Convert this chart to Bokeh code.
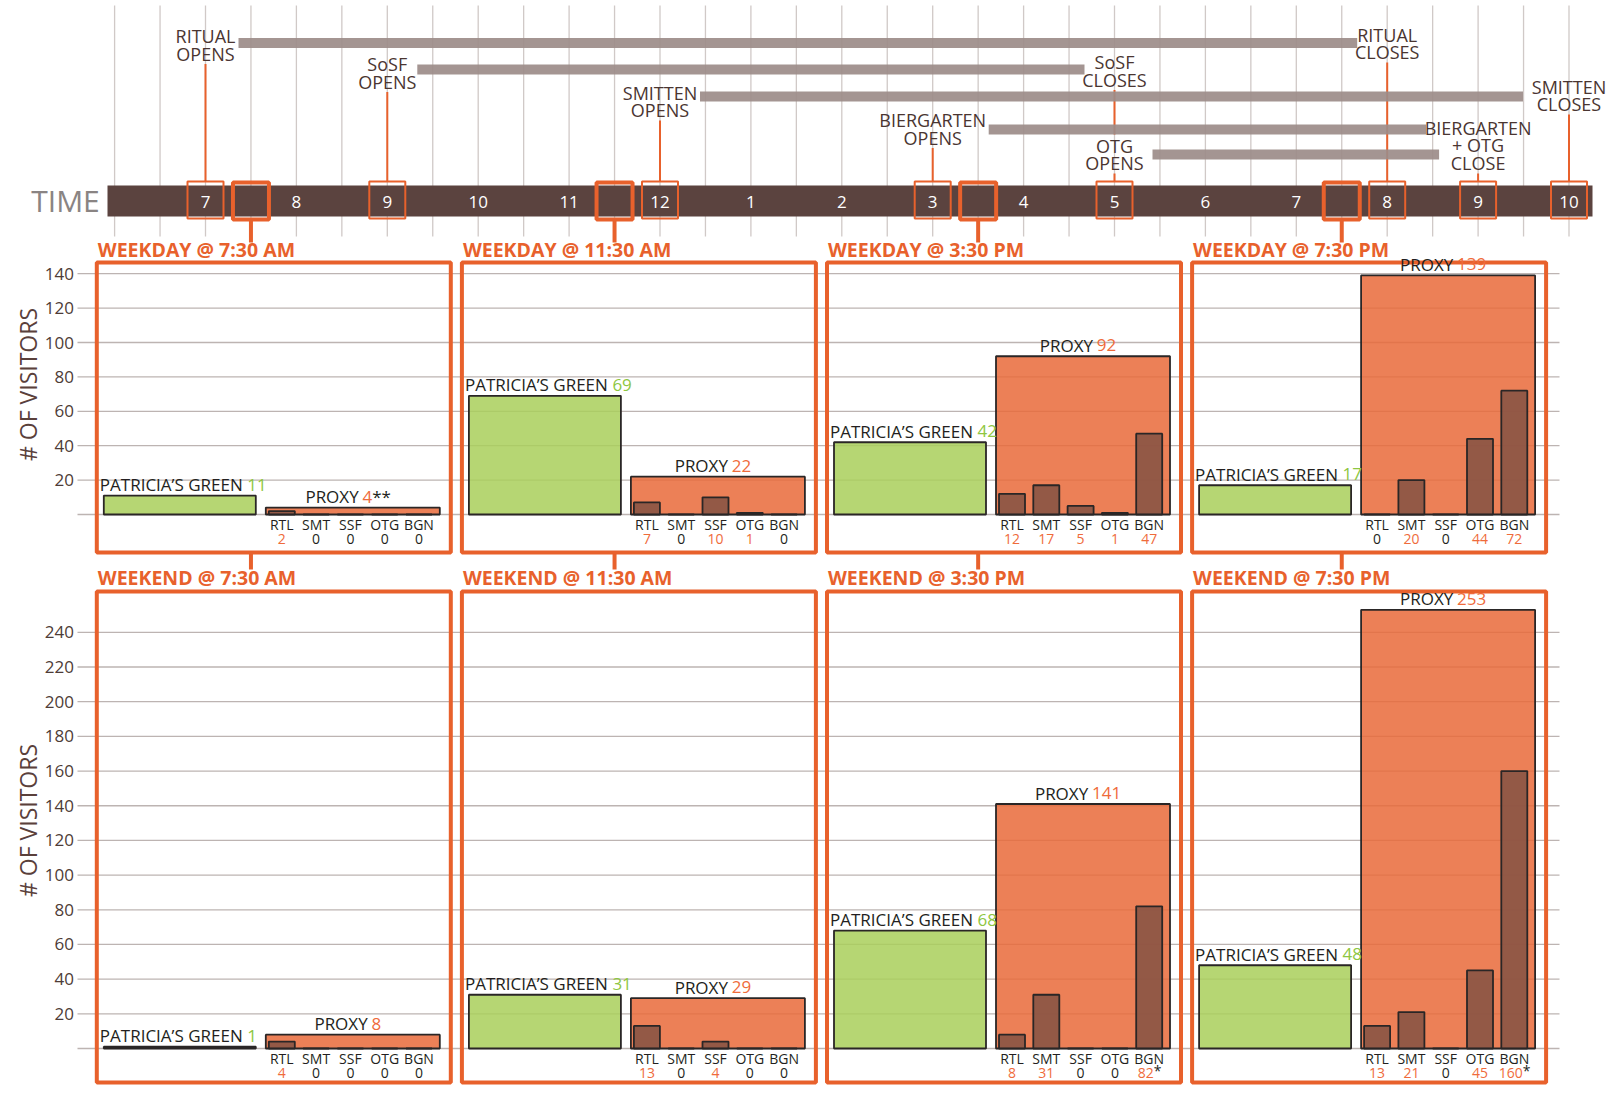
import math
from bokeh.plotting import figure
from bokeh.models import Range1d, ColumnDataSource
from bokeh.core.properties import value
from bokeh.embed import file_html
from bokeh.resources import INLINE

# ---------------- data ----------------
hours = [7, 8, 9, 10, 11, 12, 13, 14, 15, 16, 17, 18, 19, 20, 21, 22]
hour_labels = ["7", "8", "9", "10", "11", "12", "1", "2", "3", "4", "5", "6", "7", "8", "9", "10"]
snapshot_hours = [7.5, 11.5, 15.5, 19.5]
snapshot_labels = ["7:30 AM", "11:30 AM", "3:30 PM", "7:30 PM"]

venues = ["RITUAL", "SoSF", "SMITTEN", "BIERGARTEN", "OTG"]
open_hours = [7, 9, 12, 15, 17]
close_hours = [20, 17, 22, 21, 21]

event_hours = [7, 9, 12, 15, 17, 17, 20, 21, 22]
event_texts = ["RITUAL\nOPENS", "SoSF\nOPENS", "SMITTEN\nOPENS", "BIERGARTEN\nOPENS",
               "SoSF\nCLOSES", "OTG\nOPENS", "RITUAL\nCLOSES", "BIERGARTEN\n+ OTG\nCLOSE",
               "SMITTEN\nCLOSES"]

categories = ["RTL", "SMT", "SSF", "OTG", "BGN"]

weekday_green = [11, 69, 42, 17]
weekday_proxy = [4, 22, 92, 139]
weekday_rtl = [2, 7, 12, 0]
weekday_smt = [0, 0, 17, 20]
weekday_ssf = [0, 10, 5, 0]
weekday_otg = [0, 1, 1, 44]
weekday_bgn = [0, 0, 47, 72]
weekday_proxy_note = ["**", "", "", ""]
weekday_bgn_note = ["", "", "", ""]

weekend_green = [1, 31, 68, 48]
weekend_proxy = [8, 29, 141, 253]
weekend_rtl = [4, 13, 8, 13]
weekend_smt = [0, 0, 31, 21]
weekend_ssf = [0, 4, 0, 0]
weekend_otg = [0, 0, 0, 45]
weekend_bgn = [0, 0, 82, 160]
weekend_proxy_note = ["", "", "", ""]
weekend_bgn_note = ["", "", "*", "*"]

weekday_ticks = [0, 20, 40, 60, 80, 100, 120, 140]
weekend_ticks = [0, 20, 40, 60, 80, 100, 120, 140, 160, 180, 200, 220, 240]

# ---------------- styles / layout ----------------
FONT = value("Open Sans")
ORANGE = "#E8612C"
ORANGE_TXT = "#EF6B3B"
DARK = "#231F20"
BROWN_TXT = "#4A3531"
GREEN_TXT = "#8EC641"
W, H = 1608, 1101

PX_H = 90.9      # pixels per hour on the timeline
X7 = 205.0       # pixel position of 7 o'clock


def px2h(px):
    return 7 + (px - X7) / PX_H


# value scales of the two panel rows: (baseline pixel, pixels per visitor)
WD_BASE, WD_SCALE = 514.0, 1.72
WE_BASE, WE_SCALE = 1048.0, 1.734

p = figure(width=W, height=H, x_range=Range1d(0, W), y_range=Range1d(H, 0),
           x_axis_type=None, y_axis_type=None, toolbar_location=None, output_backend="svg",
           title=None, min_border=0, min_border_left=0, min_border_right=0,
           min_border_top=0, min_border_bottom=0)
p.extra_x_ranges = {"hours": Range1d(px2h(0), px2h(W))}
p.extra_y_ranges = {
    "wd": Range1d((WD_BASE - H) / WD_SCALE, WD_BASE / WD_SCALE),
    "we": Range1d((WE_BASE - H) / WE_SCALE, WE_BASE / WE_SCALE),
}
p.outline_line_color = None
p.background_fill_color = "white"
p.border_fill_color = "white"

# ================= timeline =================
TL_BOTTOM = 236
half_hours = [6 + 0.5 * k for k in range(33)]
p.segment(x0=half_hours, x1=half_hours, y0=[5] * len(half_hours), y1=[TL_BOTTOM] * len(half_hours),
          line_color="#D0C9C7", line_width=1.3, x_range_name="hours")

label_y = [44.5, 72.5, 101, 128.5, 70.5, 154, 43, 145, 95]
LINE_H = 18
lead_x, lead_y0, lead_y1 = [], [], []
for k, (h, t, ly) in enumerate(zip(event_hours, event_texts, label_y)):
    n = t.count("\n") + 1
    y0 = ly + n * LINE_H / 2 + 1
    y1 = 181
    if k == 4:  # SoSF closes sits above OTG opens at the same hour
        y1 = label_y[5] - LINE_H - 2
    lead_x.append(h)
    lead_y0.append(y0)
    lead_y1.append(y1)
p.segment(x0=lead_x, x1=lead_x, y0=lead_y0, y1=lead_y1, line_color=ORANGE, line_width=2,
          x_range_name="hours")

bar_rows = [42.5, 69, 96, 129, 154]
open_pad = [33, 30, 40, 56, 38]
close_pad = [30, 30, 46, 52, 39]
p.hbar(y=bar_rows,
       left=[o + q / PX_H for o, q in zip(open_hours, open_pad)],
       right=[c - q / PX_H for c, q in zip(close_hours, close_pad)],
       height=10, fill_color="#9C8C89", fill_alpha=0.92, line_color=None, x_range_name="hours")

p.text(x=event_hours, y=label_y, text=event_texts, text_font=FONT, text_font_size="18px",
       text_color=BROWN_TXT, text_align="center", text_baseline="middle",
       text_line_height=0.74, x_range_name="hours")

p.quad(left=[px2h(107)], right=[px2h(1592)], top=[185], bottom=[216],
       fill_color="#5B433F", line_color=None, x_range_name="hours")
p.text(x=[65], y=[200], text=["TIME"], text_font=FONT, text_font_size="30px",
       text_color="#8A8483", text_align="center", text_baseline="middle")
p.text(x=hours, y=[201] * len(hours), text=hour_labels, text_font=FONT, text_font_size="17px",
       text_color="white", text_align="center", text_baseline="middle", x_range_name="hours")

box_hours = sorted(set(event_hours))
p.rect(x=box_hours, y=[199.5] * len(box_hours), width=36, height=37, width_units="screen",
       height_units="screen", fill_color=None, line_color=ORANGE, line_width=2,
       x_range_name="hours")
p.rect(x=snapshot_hours, y=[200.5] * 4, width=36, height=37, width_units="screen",
       height_units="screen", fill_color=None, line_color=ORANGE, line_width=4,
       x_range_name="hours")
# connectors: time marker -> weekday title, weekday frame -> weekend title
p.segment(x0=snapshot_hours, x1=snapshot_hours, y0=[219] * 4, y1=[242] * 4,
          line_color=ORANGE, line_width=4, x_range_name="hours")
p.segment(x0=snapshot_hours, x1=snapshot_hours, y0=[552] * 4, y1=[569] * 4,
          line_color=ORANGE, line_width=4, x_range_name="hours")

# ================= panel rows =================
PANEL_L0 = 96.3
PANEL_STEP = 365.1
FRAME_W = 354
SUB_PITCH = 34.3
SUB_W = 26
NAME_W_GREEN = 143.0
NAME_W_PROXY = 52.6
SPACE = 4.5
DIGIT_W = 9.7
SMALL_DIGIT = 8.0
GRID_X0, GRID_X1 = 77, 1559
LBL_OFF = -11   # pixel offset of the bar labels' baseline


def draw_axis(rng, ticks, title_center):
    p.segment(x0=[GRID_X0] * len(ticks), x1=[GRID_X1] * len(ticks), y0=ticks, y1=ticks,
              line_color="#BDB4B2", line_width=1.3, y_range_name=rng)
    shown = [t for t in ticks if t != 0]
    p.text(x=[73.5] * len(shown), y=shown, text=[str(t) for t in shown], text_font=FONT,
           text_font_size="17px", text_color="#4E3C37", text_align="right",
           text_baseline="middle", y_range_name=rng)
    p.text(x=[27], y=[title_center], text=["# OF VISITORS"], text_font=FONT,
           text_font_size="23px", text_color="#5A403B", text_align="center",
           text_baseline="middle", angle=math.pi / 2)


def draw_row(rng, day, green, proxy, subs, proxy_note, bgn_note, frame_top, frame_bot, title_y):
    Ls = [PANEL_L0 + PANEL_STEP * i for i in range(4)]

    p.quad(left=Ls, right=[L + FRAME_W for L in Ls], top=[frame_top] * 4,
           bottom=[frame_bot] * 4, fill_color=None, line_color=ORANGE, line_width=4)
    p.text(x=[L + 1 for L in Ls], y=[title_y] * 4,
           text=[f"{day} @ {s}" for s in snapshot_labels], text_font=FONT,
           text_font_size="19.5px", text_font_style="bold", text_color=ORANGE,
           text_align="left", text_baseline="middle")

    p.quad(left=[L + 7 for L in Ls], right=[L + 159 for L in Ls], bottom=[0] * 4, top=green,
           fill_color="#A9CF5B", fill_alpha=0.85, line_color="#2A2626", line_width=1.8,
           y_range_name=rng)
    p.quad(left=[L + 169 for L in Ls], right=[L + 343 for L in Ls], bottom=[0] * 4, top=proxy,
           fill_color="#E96A39", fill_alpha=0.85, line_color="#2A2626", line_width=1.8,
           y_range_name=rng)
    sl, sr, st = [], [], []
    for i, L in enumerate(Ls):
        for j in range(5):
            left = L + 172 + SUB_PITCH * j
            sl.append(left)
            sr.append(left + SUB_W)
            st.append(subs[j][i])
    p.quad(left=sl, right=sr, bottom=[0] * len(st), top=st,
           fill_color="#865344", fill_alpha=0.88, line_color="#2A2626", line_width=1.8,
           y_range_name=rng)

    common = dict(text_font=FONT, text_font_size="17px", text_align="left",
                  text_baseline="alphabetic", y_offset=LBL_OFF, y_range_name=rng)
    gx = [L + 3 for L in Ls]
    p.text(x=gx, y=green, text=["PATRICIA\u2019S GREEN"] * 4, text_color=DARK, **common)
    p.text(x=[x + NAME_W_GREEN + SPACE for x in gx], y=green, text=[str(g) for g in green],
           text_color=GREEN_TXT, **common)

    nx, vx, nox = [], [], []
    for i, L in enumerate(Ls):
        cx = L + (169 + 343) / 2 - 5
        vs = str(proxy[i])
        total = NAME_W_PROXY + SPACE + DIGIT_W * len(vs) + 9 * len(proxy_note[i])
        left = cx - total / 2
        nx.append(left)
        vx.append(left + NAME_W_PROXY + SPACE)
        nox.append(left + NAME_W_PROXY + SPACE + DIGIT_W * len(vs))
    p.text(x=nx, y=proxy, text=["PROXY"] * 4, text_color=DARK, **common)
    p.text(x=vx, y=proxy, text=[str(x) for x in proxy], text_color=ORANGE_TXT, **common)
    p.text(x=nox, y=proxy, text=proxy_note, text_color=DARK, **common)

    cat_x, cat_t, val_x, val_t, val_c, note_x, note_t = [], [], [], [], [], [], []
    for i, L in enumerate(Ls):
        for j in range(5):
            cx = L + 172 + SUB_PITCH * j + SUB_W / 2
            cat_x.append(cx)
            cat_t.append(categories[j])
            vs = str(subs[j][i])
            note = bgn_note[i] if j == 4 else ""
            total = SMALL_DIGIT * len(vs) + 7 * len(note)
            val_x.append(cx - total / 2)
            val_t.append(vs)
            val_c.append(ORANGE_TXT if subs[j][i] != 0 else DARK)
            note_x.append(cx - total / 2 + SMALL_DIGIT * len(vs))
            note_t.append(note)
    p.text(x=cat_x, y=[0] * len(cat_x), text=cat_t, text_font=FONT, text_font_size="14px",
           text_color=DARK, text_align="center", text_baseline="middle", y_offset=10,
           y_range_name=rng)
    src = ColumnDataSource(dict(x=val_x, y=[0] * len(val_x), t=val_t, c=val_c))
    p.text(x="x", y="y", text="t", text_color="c", source=src, text_font=FONT,
           text_font_size="14px", text_align="left", text_baseline="middle", y_offset=24,
           y_range_name=rng)
    p.text(x=note_x, y=[0] * len(note_x), text=note_t, text_font=FONT, text_font_size="14px",
           text_color=DARK, text_align="left", text_baseline="middle", y_offset=22,
           y_range_name=rng)


draw_axis("wd", weekday_ticks, 384)
draw_axis("we", weekend_ticks, 820)

draw_row("wd", "WEEKDAY", weekday_green, weekday_proxy,
         [weekday_rtl, weekday_smt, weekday_ssf, weekday_otg, weekday_bgn],
         weekday_proxy_note, weekday_bgn_note, 262, 552, 249)
draw_row("we", "WEEKEND", weekend_green, weekend_proxy,
         [weekend_rtl, weekend_smt, weekend_ssf, weekend_otg, weekend_bgn],
         weekend_proxy_note, weekend_bgn_note, 591, 1082, 577)

open("out.html", "w").write(file_html(p, INLINE))
